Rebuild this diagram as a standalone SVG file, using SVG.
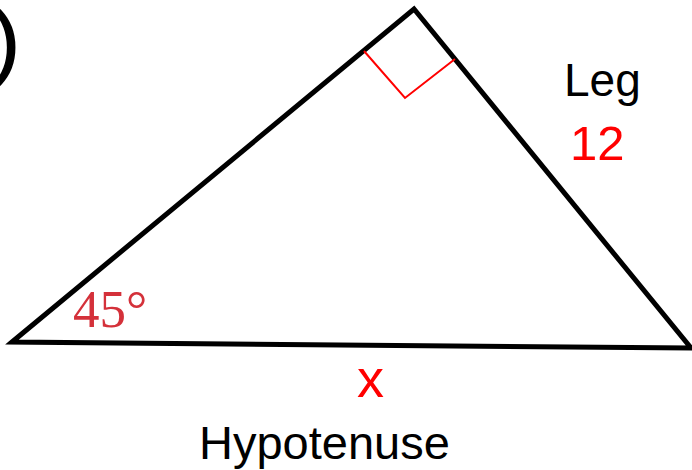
<svg xmlns="http://www.w3.org/2000/svg" width="692" height="470" viewBox="0 0 692 470">
<style>
.s{font-family:"Liberation Sans",Arial,sans-serif;}
.tri{fill:none;stroke:#000;stroke-width:5;stroke-linejoin:miter;}
.mark{fill:none;stroke:#ff0000;stroke-width:2;}
</style>
<rect width="692" height="470" fill="#fff"/>
<text class="s" x="-7" y="68" font-size="80" fill="#000" stroke="#000" stroke-width="1.5">)</text>
<g id="triangle">
<polygon class="tri" points="12,342 414,9 691,348"/>
<polyline class="mark" points="364,51 405,98 455,59"/>
</g>
<g id="labels">
<text class="s" x="564" y="96" font-size="46" fill="#000">Leg</text>
<text class="s" x="570" y="160" font-size="49" fill="#ff0000">12</text>
<text x="73" y="327" font-size="53" fill="#d4313a" font-family="Liberation Serif,serif">45°</text>
<text class="s" x="357" y="397" font-size="54" fill="#ff0000">x</text>
<text class="s" x="199" y="459" font-size="47" fill="#000">Hypotenuse</text>
</g>
</svg>
